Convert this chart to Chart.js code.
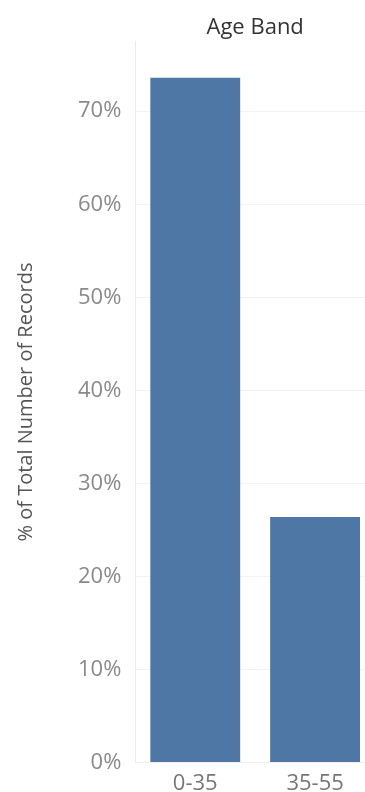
<!DOCTYPE html>
<html>
<head>
<meta charset="utf-8">
<script src="https://cdn.jsdelivr.net/npm/chart.js@4/dist/chart.umd.min.js"></script>
<style>
  html, body { margin: 0; padding: 0; background: #fff; overflow: hidden; }
  #wrap { width: 365px; height: 792px; overflow: hidden; }
</style>
</head>
<body>
<div id="wrap"><canvas id="age_chart" width="375" height="792"></canvas></div>
<script>
// share of records per age band (%)
const age_bands = ["0-35", "35-55"];
const pct_of_records = [73.6, 26.4];
const y_ticks = [0, 10, 20, 30, 40, 50, 60, 70];

const bar_color = "#4e77a5";

const config = {
  type: "bar",
  data: {
    labels: age_bands,
    datasets: [
      {
        label: "% of Total Number of Records",
        data: pct_of_records,
        backgroundColor: bar_color,
        barPercentage: 0.75,
        categoryPercentage: 1.0,
      },
    ],
  },
  options: {
    responsive: false,
    animation: false,
    layout: { padding: { left: 14, top: 4, right: 0, bottom: -13 } },
    plugins: {
      legend: { display: false },
      tooltip: { enabled: false },
      title: {
        display: true,
        text: "Age Band",
        fullSize: false,
        color: "#333",
        font: { family: "Open Sans", size: 22, weight: "normal" },
        padding: { top: 11, bottom: 0 },
      },
    },
    scales: {
      x: {
        grid: { display: false, drawTicks: false },
        border: { color: "#f0f0f0" },
        ticks: {
          color: "#777",
          font: { family: "Open Sans", size: 22 },
          padding: 8,
        },
      },
      y: {
        min: 0,
        max: 77.5,
        afterBuildTicks(axis) {
          axis.ticks = y_ticks.map((v) => ({ value: v }));
        },
        grid: { color: "#f3f3f3", drawTicks: false },
        border: { color: "#ececec" },
        ticks: {
          color: "#8a8a8a",
          font: { family: "Open Sans", size: 22 },
          padding: 14,
          callback: (v) => v + "%",
        },
        title: {
          display: true,
          text: "% of Total Number of Records",
          color: "#555",
          font: { family: "Open Sans", size: 20 },
          padding: { top: 0, bottom: 26 },
        },
      },
    },
  },
};

new Chart(document.getElementById("age_chart"), config);
</script>
</body>
</html>
